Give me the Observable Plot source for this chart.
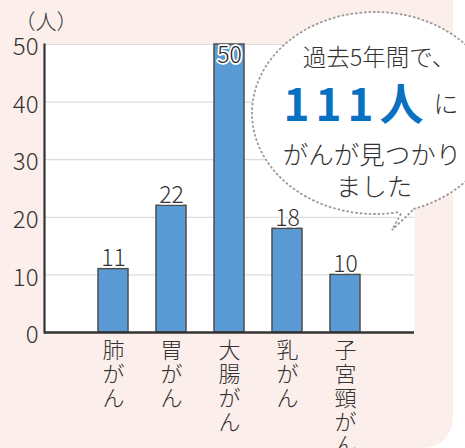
<!DOCTYPE html>
<html><head><meta charset="utf-8">
<script src="https://cdn.jsdelivr.net/npm/d3@7"></script>
<script src="https://cdn.jsdelivr.net/npm/@observablehq/plot@0.6"></script>
<style>
html,body{margin:0;padding:0;background:#fff;}
#wrap{position:relative;width:465px;height:448px;overflow:hidden;font-family:"Noto Sans CJK JP","Noto Sans",sans-serif;}
#bg{position:absolute;left:0;top:0;width:453px;height:448px;background:#fcefeb;border-bottom-right-radius:30px;}
#chart{position:absolute;left:0;top:0;}
#over{position:absolute;left:0;top:0;pointer-events:none;}
</style></head>
<body>
<div id="wrap"><div id="bg"></div><div id="chart"></div><svg id="over" width="465" height="448"></svg></div>
<script>
const categories = ["肺がん","胃がん","大腸がん","乳がん","子宮頸がん"];
const values = [11,22,50,18,10];
const yTicks = [0,10,20,30,40,50];
const unitLabel = "（人）";
const calloutLines = ["過去5年間で、","111人","に","がんが見つかり","ました"];

const data = categories.map((c,i)=>({cat:c, value:values[i]}));
const maxV = d3.max(values);
const font = '"Noto Sans CJK JP","Noto Sans",sans-serif';

const chart = Plot.plot({
  width:465, height:448,
  marginTop:44, marginBottom:116, marginLeft:44, marginRight:51,
  style:{background:"transparent", fontFamily:font, color:"#333", fontWeight:300},
  x:{domain:categories, insetLeft:52, insetRight:52, paddingInner:0.49, paddingOuter:0, label:null},
  y:{domain:[0,50], label:null},
  marks:[
    Plot.frame({fill:"white", stroke:null}),
    Plot.gridY(yTicks.filter(v=>v>0),{stroke:"#dcdcdc", strokeOpacity:1, strokeWidth:1.2}),
    Plot.barY(data,{x:"cat", y:"value", fill:"#5b9bd5", stroke:"#4d4d4d", strokeWidth:1.5}),
    Plot.frame({anchor:"left", stroke:"#333", strokeWidth:2.2}),
    Plot.ruleY([0],{stroke:"#333", strokeWidth:2.5}),
    Plot.axisY(yTicks,{tickSize:0, tickPadding:6, fontSize:24, dy:3, fill:"#333", label:null}),
    Plot.axisX({tickSize:0, tickPadding:9, fontSize:22, lineHeight:1.08, fill:"#333", label:null, tickFormat:s=>[...s].join("\n")}),
    Plot.text(data.filter(d=>d.value<maxV),{x:"cat", y:"value", text:d=>String(d.value), lineAnchor:"bottom", dy:-3, fontSize:23, fill:"#333", stroke:"white", strokeWidth:3}),
    Plot.text(data.filter(d=>d.value>=maxV),{x:"cat", y:"value", text:d=>String(d.value), lineAnchor:"top", dy:2, fontSize:23, fill:"#222", stroke:"white", strokeWidth:3.5})
  ]
});
document.getElementById("chart").appendChild(chart);

const svg = d3.select("#over");
svg.append("text").attr("x",46).attr("y",20).attr("text-anchor","middle").attr("dominant-baseline","central")
  .attr("font-family",font).attr("font-weight",300).attr("font-size",21).attr("fill","#333").text(unitLabel);

const dash = {stroke:"#999", "stroke-width":1.8, "stroke-dasharray":"2.5 2"};
const ell = svg.append("ellipse").attr("cx",375).attr("cy",113).attr("rx",123).attr("ry",101).attr("fill","white");
for (const k in dash) ell.attr(k,dash[k]);
svg.append("path").attr("d","M398,213 L392,230 L414,209 Z").attr("fill","white").attr("stroke","none");
svg.append("rect").attr("x",399).attr("y",208).attr("width",14).attr("height",8).attr("fill","white");
const tail = svg.append("path").attr("d","M401,213.5 L392,230 L414,209").attr("fill","none");
for (const k in dash) tail.attr(k,dash[k]);

const tx = (x,y,size,txt)=>svg.append("text").attr("x",x).attr("y",y).attr("text-anchor","middle")
  .attr("dominant-baseline","central").attr("font-family",font).attr("font-weight",300).attr("font-size",size).attr("fill","#333").text(txt);
tx(379,56,23.5,calloutLines[0]);
const t2 = svg.append("text").attr("x",371).attr("y",102).attr("text-anchor","middle")
  .attr("dominant-baseline","central").attr("font-family",font);
t2.append("tspan").attr("font-size",44).attr("font-weight",700).attr("fill","#0a70c0").attr("letter-spacing",6).text(calloutLines[1]);
t2.append("tspan").attr("font-size",25).attr("font-weight",300).attr("fill","#333").attr("dx",4).text(calloutLines[2]);
tx(372,152,25.5,calloutLines[3]);
tx(374,184,25.5,calloutLines[4]);
</script>
</body></html>
